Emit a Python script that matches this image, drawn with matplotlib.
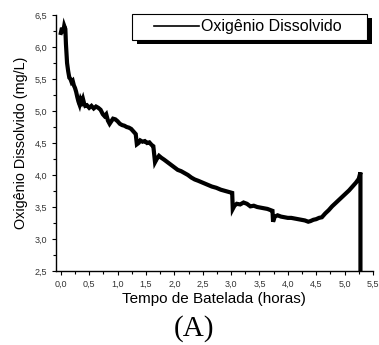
"""Oxigenio dissolvido ao longo da batelada (figura A)."""

import matplotlib
matplotlib.use("Agg")
import matplotlib.pyplot as plt
from matplotlib.patches import Rectangle
from matplotlib.ticker import MultipleLocator, FuncFormatter

# ── Data ──────────────────────────────────────────────────────────────
tempo_h = [
    0.00, 0.02, 0.04, 0.06, 0.08, 0.09, 0.11, 0.13, 0.15, 0.17, 0.19, 0.21,
    0.23, 0.25, 0.27, 0.29, 0.31, 0.33, 0.35, 0.37, 0.39, 0.41, 0.43, 0.46,
    0.50, 0.54, 0.58, 0.62, 0.66, 0.70, 0.74, 0.77, 0.80, 0.83, 0.86, 0.89,
    0.92, 0.96, 1.00, 1.04, 1.08, 1.12, 1.16, 1.20, 1.24, 1.28, 1.32, 1.34,
    1.37, 1.40, 1.44, 1.48, 1.52, 1.56, 1.60, 1.63, 1.66, 1.69, 1.73, 1.77,
    1.82, 1.88, 1.94, 2.00, 2.06, 2.12, 2.18, 2.24, 2.30, 2.36, 2.42, 2.50,
    2.58, 2.66, 2.74, 2.82, 2.90, 2.98, 3.02, 3.03, 3.06, 3.10, 3.16, 3.22,
    3.28, 3.34, 3.40, 3.46, 3.52, 3.58, 3.64, 3.70, 3.73, 3.74, 3.77, 3.82,
    3.88, 3.94, 4.00, 4.06, 4.12, 4.18, 4.24, 4.30, 4.36, 4.40, 4.45, 4.50,
    4.55, 4.60, 4.66, 4.72, 4.78, 4.84, 4.90, 4.96, 5.02, 5.08, 5.14, 5.20,
    5.25, 5.28, 5.28,
]
od_mgL = [
    6.22, 6.30, 6.22, 6.33, 6.28, 6.05, 5.75, 5.62, 5.52, 5.50, 5.45, 5.47,
    5.40, 5.36, 5.30, 5.22, 5.15, 5.10, 5.18, 5.14, 5.19, 5.12, 5.08, 5.09,
    5.05, 5.08, 5.04, 5.07, 5.05, 5.02, 4.95, 4.92, 4.95, 4.85, 4.80, 4.84,
    4.88, 4.87, 4.84, 4.80, 4.78, 4.77, 4.75, 4.74, 4.72, 4.68, 4.64, 4.48,
    4.50, 4.54, 4.52, 4.53, 4.50, 4.51, 4.47, 4.45, 4.20, 4.25, 4.30, 4.27,
    4.24, 4.20, 4.16, 4.12, 4.08, 4.06, 4.03, 4.00, 3.96, 3.93, 3.91, 3.88,
    3.85, 3.82, 3.80, 3.77, 3.75, 3.73, 3.72, 3.47, 3.52, 3.55, 3.54, 3.57,
    3.55, 3.51, 3.52, 3.50, 3.49, 3.48, 3.47, 3.45, 3.44, 3.27, 3.35, 3.37,
    3.35, 3.34, 3.33, 3.33, 3.32, 3.31, 3.30, 3.29, 3.27, 3.28, 3.30, 3.31,
    3.33, 3.34, 3.40, 3.45, 3.51, 3.56, 3.61, 3.66, 3.71, 3.76, 3.82, 3.88,
    3.94, 4.04, 2.40,
]
serie_label = "Oxigênio Dissolvido"

# ── Figure ────────────────────────────────────────────────────────────
plt.rcParams["font.family"] = ["Liberation Sans", "DejaVu Sans"]

fig = plt.figure(figsize=(3.79, 3.45), dpi=100)
ax = fig.add_axes([0.147, 0.2145, 0.837, 0.742])

ax.plot(tempo_h, od_mgL, color="black", linewidth=3.0,
        solid_joinstyle="miter", label=serie_label)

ax.set_xlim(-0.09, 5.5)
ax.set_ylim(2.5, 6.5)

ax.xaxis.set_major_locator(MultipleLocator(0.5))
ax.xaxis.set_minor_locator(MultipleLocator(0.25))
ax.yaxis.set_major_locator(MultipleLocator(0.5))
ax.yaxis.set_minor_locator(MultipleLocator(0.25))
virgula = FuncFormatter(lambda v, pos: f"{v:.1f}".replace(".", ","))
ax.xaxis.set_major_formatter(virgula)
ax.yaxis.set_major_formatter(virgula)

ax.tick_params(which="major", direction="out", length=3, width=0.8,
               labelsize=6.5, labelcolor="#333333", pad=3)
ax.tick_params(which="minor", direction="out", length=2, width=0.8)

for side in ("top", "right"):
    ax.spines[side].set_visible(False)
for side in ("left", "bottom"):
    ax.spines[side].set_linewidth(1.0)

ax.set_xlabel("Tempo de Batelada (horas)", fontsize=11, labelpad=3)
ax.set_ylabel("Oxigênio Dissolvido (mg/L)", fontsize=10.4, labelpad=5)

# Legenda estilo Origin (caixa com sombra preta)
x0, x1, y0, y1 = 0.2395, 0.980, 0.9035, 1.004
dx, dy = 0.0158, 0.0156
ax.add_patch(Rectangle((x0 + dx, y0 - dy), x1 - x0, y1 - y0,
                       transform=ax.transAxes, facecolor="black",
                       edgecolor="none", clip_on=False, zorder=5))
ax.add_patch(Rectangle((x0, y0), x1 - x0, y1 - y0, transform=ax.transAxes,
                       facecolor="white", edgecolor="black", linewidth=0.8,
                       clip_on=False, zorder=6))
ax.plot([0.3107, 0.4516], [0.956, 0.956], transform=ax.transAxes,
        color="black", linewidth=1.2, clip_on=False, zorder=7)
ax.text(0.458, 0.955, serie_label, transform=ax.transAxes, fontsize=11.5,
        ha="left", va="center", zorder=7)

fig.text(0.512, 0.049, "(A)", ha="center", va="center", fontsize=21,
         family=["Liberation Serif", "DejaVu Serif"])

fig.savefig("out.png", dpi=100, facecolor="white")
